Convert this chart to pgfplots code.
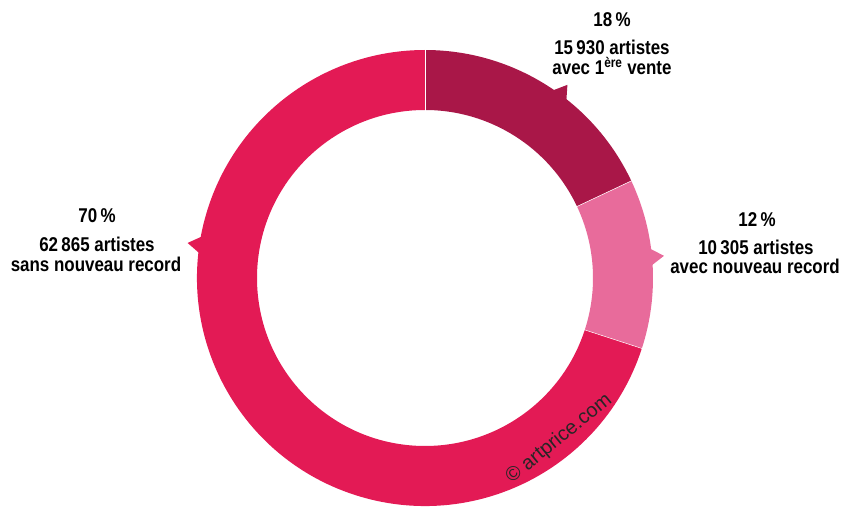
\documentclass[border=0pt]{standalone}
\usepackage{pgfplots}
\pgfplotsset{compat=1.18}
\usepackage{fontspec}
\newfontfamily\labfont{Liberation Sans}[FakeStretch=0.85]
\newfontfamily\wmfont{Liberation Sans}
\definecolor{cmain}{HTML}{E31A55}
\definecolor{cdark}{HTML}{A91748}
\definecolor{clight}{HTML}{E86B9B}
% shares (percent)
\def\pA{18}\def\pB{12}\def\pC{70}
\pgfmathsetmacro\aA{90}
\pgfmathsetmacro\aB{90-3.6*\pA}
\pgfmathsetmacro\aC{\aB-3.6*\pB}
\pgfmathsetmacro\aD{\aC-3.6*\pC}
\newcommand\seg[3]{%
\fill[#1] ([shift={(#2:228bp)}]axis cs:425,233) arc[start angle=#2,end angle=#3,radius=228bp]
 -- ([shift={(#3:168bp)}]axis cs:425,233) arc[start angle=#3,end angle=#2,radius=168bp] -- cycle;}
\newcommand\ptr[2]{%
\fill[#1] ([shift={(#2+2.3:226bp)}]axis cs:425,233) -- ([shift={(#2:240bp)}]axis cs:425,233)
 -- ([shift={(#2-2.3:226bp)}]axis cs:425,233) -- cycle;}
\newcommand\sepl[1]{%
\draw[white,line width=0.5bp] ([shift={(#1:167bp)}]axis cs:425,233) -- ([shift={(#1:229bp)}]axis cs:425,233);}
\begin{document}
\begin{tikzpicture}
\begin{axis}[width=842bp,height=511bp,scale only axis,
  xmin=0,xmax=842,ymin=0,ymax=511,hide axis,clip=false]
\seg{cdark}{\aA}{\aB}
\seg{clight}{\aB}{\aC}
\seg{cmain}{\aC}{\aD}
\ptr{cdark}{53.6}
\ptr{clight}{5.3}
\ptr{cmain}{171.6}
\sepl{\aA}\sepl{\aB}\sepl{\aC}
\begin{scope}[every node/.style={anchor=base,font=\labfont\bfseries\fontsize{20}{22}\selectfont,inner sep=0pt}]
\node at (axis cs:612,484) {18\,\%};
\node at (axis cs:612,456) {15\,930 artistes};
\node at (axis cs:612,436) {avec 1\textsuperscript{ère} vente};
\node at (axis cs:757,284) {12\,\%};
\node at (axis cs:756,256) {10\,305 artistes};
\node at (axis cs:755,237) {avec nouveau record};
\node at (axis cs:97,288) {70\,\%};
\node at (axis cs:97,259) {62\,865 artistes};
\node at (axis cs:96,239) {sans nouveau record};
\end{scope}
\node[rotate=39,font=\wmfont\fontsize{20}{22}\selectfont,text=black!85,inner sep=0pt] at (axis cs:559,72) {© artprice.com};
\end{axis}
\pgfresetboundingbox
\path (0,0) rectangle (842bp,511bp);
\end{tikzpicture}
\end{document}
